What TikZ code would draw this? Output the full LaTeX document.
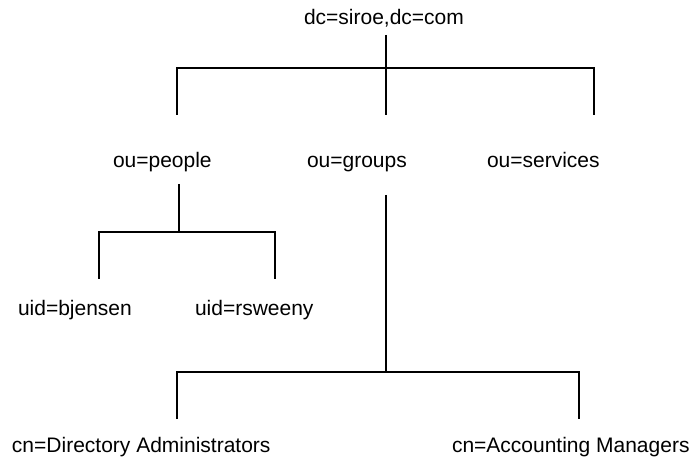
\documentclass[tikz,border=0pt]{standalone}
\usepackage{fontspec}
\setmainfont{Liberation Sans}
\begin{document}
\begin{tikzpicture}[x=1pt,y=-1pt,
  lbl/.style={anchor=base west,inner sep=0pt,outer sep=0pt,font=\fontsize{21}{25}\selectfont},
  tree/.style={line width=2.4pt,line cap=butt,line join=miter}]
\useasboundingbox (0,0) rectangle (691,457);
% labels
\node[lbl] (root) at (304,25) {dc=siroe,dc=com};
\node[lbl] (people) at (113,168) {ou=people};
\node[lbl] (groups) at (307,168) {ou=groups};
\node[lbl] (services) at (487,168) {ou=services};
\node[lbl] (bjensen) at (18,316) {uid=bjensen};
\node[lbl] (rsweeny) at (195,316) {uid=rsweeny};
\node[lbl] (diradm) at (12,452) {cn=Directory Administrators};
\node[lbl] (accmgr) at (452,452) {cn=Accounting Managers};
% connector end points
\coordinate (rootD) at (386,35);
\coordinate (rootJ) at (386,68);
\coordinate (rootL) at (177,68);
\coordinate (rootR) at (594,68);
\coordinate (peopleU) at (177,115);
\coordinate (groupsU) at (386,115);
\coordinate (servicesU) at (594,115);
\coordinate (peopleD) at (179,184);
\coordinate (peopleJ) at (179,232);
\coordinate (peopleL) at (99,232);
\coordinate (peopleR) at (275,232);
\coordinate (bjensenU) at (99,279);
\coordinate (rsweenyU) at (275,279);
\coordinate (groupsD) at (386,195);
\coordinate (groupsJ) at (386,372);
\coordinate (groupsL) at (177,372);
\coordinate (groupsR) at (579,372);
\coordinate (diradmU) at (177,419);
\coordinate (accmgrU) at (579,419);
% connectors
\draw[tree] (rootD) -- (rootJ);
\draw[tree] (peopleU) -- (rootL) -- (rootR) -- (servicesU);
\draw[tree] (rootJ) -- (groupsU);
\draw[tree] (peopleD) -- (peopleJ);
\draw[tree] (bjensenU) -- (peopleL) -- (peopleR) -- (rsweenyU);
\draw[tree] (groupsD) -- (groupsJ);
\draw[tree] (diradmU) -- (groupsL) -- (groupsR) -- (accmgrU);
\end{tikzpicture}
\end{document}
